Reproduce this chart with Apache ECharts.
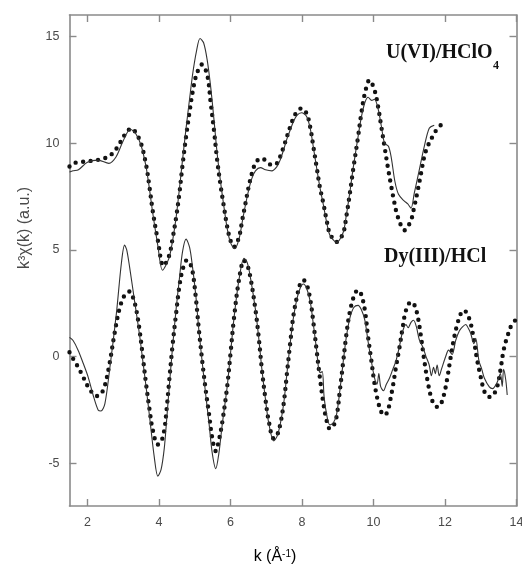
<!DOCTYPE html>
<html>
<head>
<meta charset="utf-8">
<script src="https://cdn.jsdelivr.net/npm/echarts@6/dist/echarts.min.js"></script>
<style>
  html, body { margin: 0; padding: 0; background: #fff; }
  #chart { width: 522px; height: 568px; }
</style>
</head>
<body>
<div id="chart"></div>
<script>
// k-space EXAFS, k^3-weighted: experiment (thin line) and fit (dotted)

// Axis ticks
const kTicks = [2, 4, 6, 8, 10, 12, 14];
const chiTicks = [-5, 0, 5, 10, 15];

// U(VI) / HClO4 (offset upward)
const kUFit = [1.5, 1.6, 1.75, 2.0, 2.25, 2.5, 2.6, 2.75, 2.9, 3.05, 3.23, 3.35, 3.5, 3.64, 3.74, 3.83, 3.97, 4.13, 4.28, 4.38, 4.48, 4.57, 4.66, 4.76, 4.86, 4.95, 5.05, 5.2, 5.35, 5.45, 5.54, 5.63, 5.73, 5.82, 5.91, 6.0, 6.1, 6.24, 6.33, 6.42, 6.51, 6.6, 6.7, 6.84, 6.98, 7.16, 7.3, 7.39, 7.49, 7.58, 7.67, 7.76, 7.86, 7.99, 8.13, 8.23, 8.32, 8.41, 8.5, 8.6, 8.69, 8.78, 8.97, 9.15, 9.24, 9.34, 9.43, 9.57, 9.66, 9.76, 9.89, 10.03, 10.13, 10.22, 10.31, 10.4, 10.5, 10.59, 10.68, 10.87, 11.05, 11.14, 11.24, 11.33, 11.42, 11.51, 11.65, 11.79, 11.88];
const chiUFit = [8.9, 9.05, 9.1, 9.15, 9.2, 9.3, 9.38, 9.6, 9.98, 10.4, 10.69, 10.5, 9.98, 9.0, 7.9, 6.8, 5.45, 4.25, 4.7, 5.5, 6.5, 7.6, 8.95, 10.3, 11.5, 12.45, 13.2, 13.68, 13.2, 11.86, 10.6, 9.2, 7.95, 7.0, 6.08, 5.45, 5.14, 5.6, 6.39, 7.17, 7.95, 8.58, 9.05, 9.28, 9.2, 8.97, 9.05, 9.36, 9.83, 10.3, 10.76, 11.16, 11.47, 11.63, 11.39, 10.76, 9.83, 8.89, 7.95, 7.17, 6.39, 5.77, 5.37, 5.77, 6.55, 7.64, 8.73, 10.3, 11.39, 12.33, 12.95, 12.48, 11.7, 10.76, 9.83, 8.89, 7.95, 7.17, 6.55, 5.92, 6.39, 7.01, 7.8, 8.58, 9.36, 9.83, 10.3, 10.69, 10.84];

const kUExp = [1.5, 1.6, 1.75, 2.0, 2.3, 2.6, 2.8, 3.0, 3.2, 3.35, 3.5, 3.64, 3.74, 3.83, 3.97, 4.1, 4.28, 4.38, 4.48, 4.57, 4.66, 4.76, 4.86, 4.95, 5.05, 5.15, 5.25, 5.35, 5.45, 5.54, 5.63, 5.73, 5.82, 5.91, 6.0, 6.12, 6.24, 6.33, 6.42, 6.51, 6.6, 6.7, 6.84, 6.98, 7.16, 7.3, 7.39, 7.49, 7.58, 7.67, 7.76, 7.86, 7.99, 8.13, 8.23, 8.32, 8.41, 8.5, 8.6, 8.69, 8.78, 8.97, 9.15, 9.24, 9.34, 9.43, 9.57, 9.66, 9.76, 9.85, 9.95, 10.03, 10.13, 10.22, 10.31, 10.42, 10.5, 10.6, 10.7, 10.85, 10.96, 11.05, 11.14, 11.28, 11.42, 11.56, 11.7];
const chiUExp = [8.65, 8.7, 8.75, 9.1, 9.2, 9.05, 9.35, 10.1, 10.65, 10.45, 9.9, 8.9, 7.8, 6.7, 5.2, 4.05, 4.6, 5.4, 6.5, 7.8, 9.2, 10.7, 12.1, 13.3, 14.3, 14.9, 14.7, 13.9, 12.6, 11.1, 9.5, 8.1, 7.0, 6.0, 5.35, 5.05, 5.5, 6.3, 7.1, 7.8, 8.35, 8.7, 8.85, 8.75, 8.7, 8.9, 9.2, 9.7, 10.2, 10.6, 11.0, 11.3, 11.42, 11.25, 10.7, 9.8, 8.85, 7.95, 7.1, 6.3, 5.7, 5.35, 5.8, 6.6, 7.7, 8.8, 10.3, 11.2, 11.9, 12.15, 12.0, 12.05, 11.6, 10.8, 10.0, 9.85, 9.3, 8.2, 7.6, 7.3, 7.15, 6.95, 7.64, 8.73, 9.83, 10.7, 10.84];

// Dy(III) / HCl
const kDyFit = [1.5, 1.6, 1.74, 1.88, 2.02, 2.14, 2.26, 2.38, 2.49, 2.62, 2.76, 2.9, 3.04, 3.18, 3.28, 3.37, 3.46, 3.55, 3.64, 3.74, 3.83, 3.97, 4.06, 4.15, 4.22, 4.29, 4.38, 4.48, 4.57, 4.66, 4.78, 4.86, 4.94, 5.03, 5.12, 5.22, 5.31, 5.4, 5.49, 5.59, 5.68, 5.77, 5.91, 6.0, 6.1, 6.24, 6.38, 6.47, 6.56, 6.7, 6.79, 6.88, 6.98, 7.07, 7.21, 7.3, 7.39, 7.49, 7.58, 7.67, 7.76, 7.86, 7.95, 8.04, 8.13, 8.23, 8.32, 8.41, 8.5, 8.6, 8.69, 8.78, 8.88, 8.97, 9.06, 9.15, 9.24, 9.34, 9.48, 9.57, 9.66, 9.76, 9.85, 9.94, 10.03, 10.12, 10.22, 10.31, 10.4, 10.45, 10.54, 10.63, 10.73, 10.82, 10.91, 11.05, 11.15, 11.24, 11.33, 11.42, 11.51, 11.61, 11.7, 11.79, 11.89, 11.98, 12.07, 12.16, 12.26, 12.35, 12.44, 12.53, 12.62, 12.72, 12.81, 12.9, 13.0, 13.09, 13.18, 13.27, 13.37, 13.46, 13.55, 13.64, 13.74, 13.88, 13.97];
const chiDyFit = [0.2, -0.1, -0.49, -0.95, -1.42, -1.7, -1.85, -1.75, -1.35, -0.33, 1.08, 2.25, 2.87, 3.05, 2.75, 2.17, 1.23, 0.0, -1.27, -2.5, -3.45, -4.12, -4.0, -3.45, -2.4, -1.1, 0.5, 2.0, 3.26, 4.05, 4.51, 4.4, 4.0, 2.8, 1.23, -0.33, -1.58, -2.67, -3.8, -4.43, -3.9, -3.1, -1.4, 0.1, 1.8, 3.6, 4.5, 4.3, 3.7, 2.2, 0.92, -0.6, -2.0, -3.0, -3.84, -3.7, -3.2, -2.2, -0.8, 0.6, 1.9, 2.8, 3.4, 3.58, 3.4, 2.7, 1.6, 0.3, -0.96, -2.2, -3.0, -3.38, -3.25, -2.8, -1.6, -0.3, 1.0, 2.1, 2.95, 3.11, 2.9, 2.17, 0.92, -0.17, -1.27, -2.05, -2.6, -2.75, -2.55, -2.2, -1.42, -0.49, 0.45, 1.39, 2.17, 2.56, 2.4, 1.86, 0.92, -0.17, -1.11, -1.89, -2.25, -2.36, -2.2, -1.73, -0.96, -0.02, 0.92, 1.55, 2.0, 2.17, 2.0, 1.55, 0.76, -0.17, -0.96, -1.58, -1.85, -1.89, -1.75, -1.42, -0.64, 0.3, 0.92, 1.55, 1.7];

const kDyExp = [1.5, 1.6, 1.74, 1.88, 2.02, 2.16, 2.3, 2.38, 2.49, 2.62, 2.81, 2.95, 3.04, 3.1, 3.18, 3.32, 3.46, 3.55, 3.64, 3.74, 3.87, 3.97, 4.06, 4.15, 4.22, 4.29, 4.38, 4.48, 4.57, 4.66, 4.76, 4.86, 4.94, 5.03, 5.12, 5.22, 5.31, 5.4, 5.49, 5.59, 5.68, 5.77, 5.91, 6.0, 6.1, 6.24, 6.38, 6.47, 6.56, 6.7, 6.79, 6.88, 6.98, 7.07, 7.21, 7.3, 7.39, 7.49, 7.58, 7.67, 7.76, 7.86, 7.95, 8.04, 8.13, 8.23, 8.32, 8.41, 8.47, 8.52, 8.57, 8.62, 8.69, 8.78, 8.88, 8.97, 9.06, 9.15, 9.24, 9.34, 9.45, 9.57, 9.66, 9.76, 9.85, 9.94, 10.03, 10.1, 10.15, 10.2, 10.28, 10.36, 10.45, 10.54, 10.63, 10.73, 10.82, 10.91, 10.97, 11.05, 11.12, 11.2, 11.28, 11.38, 11.47, 11.56, 11.62, 11.68, 11.73, 11.78, 11.84, 11.9, 12.02, 12.1, 12.2, 12.3, 12.4, 12.49, 12.58, 12.66, 12.72, 12.81, 12.86, 12.95, 13.03, 13.1, 13.24, 13.33, 13.46, 13.55, 13.6, 13.64, 13.7, 13.74];
const chiDyExp = [0.9, 0.75, 0.3, -0.3, -0.95, -1.8, -2.5, -2.55, -2.2, -0.64, 2.0, 4.36, 5.22, 5.0, 4.2, 2.6, 1.0, -0.2, -1.4, -2.83, -4.7, -5.6, -5.3, -4.3, -2.9, -1.4, 0.4, 2.2, 3.6, 4.9, 5.5, 5.1, 4.2, 2.9, 1.2, -0.4, -1.8, -3.1, -4.5, -5.25, -4.5, -3.2, -1.4, 0.1, 1.8, 3.6, 4.6, 4.4, 3.7, 2.2, 0.9, -0.6, -2.0, -3.1, -3.95, -3.75, -3.2, -2.2, -0.8, 0.6, 1.8, 2.7, 3.2, 3.4, 3.2, 2.6, 1.5, 0.3, -0.6, -0.75, -0.7, -1.9, -2.7, -3.2, -3.1, -2.7, -1.6, -0.3, 0.9, 1.8, 2.3, 2.4, 2.2, 1.7, 0.7, -0.2, -1.0, -1.3, -0.8, -1.4, -1.6, -1.3, -1.0, -0.6, -0.2, 0.5, 1.2, 1.5, 1.35, 1.6, 1.7, 1.4, 0.8, 0.45, 0.0, -0.4, -0.9, -0.5, -0.8, -0.4, -0.9, -0.6, 0.0, 0.3, 0.1, 0.76, 1.2, 1.39, 1.5, 1.3, 1.08, 0.6, 0.85, -0.2, -0.6, -1.0, -1.42, -1.5, -1.2, -0.8, -1.4, -0.6, -1.1, -1.8];

const pairs = (xs, ys) => xs.map((x, i) => [x, ys[i]]);

const AXIS_COLOR = '#8a8a8a';
const LABEL_COLOR = '#4a4a4a';
const SANS = "'Liberation Sans', Arial, sans-serif";
const SERIF = "'Liberation Serif', 'Times New Roman', serif";

// fit curves: round dots along the path
const fitStyle = { color: '#111', width: 4.4, type: [0, 7.5], cap: 'round' };
const expStyle = { color: '#333', width: 1.1 };

function valueAxis(pos, min, max, ticks, showLabels) {
  return {
    type: 'value', position: pos, min: min, max: max,
    splitLine: { show: false },
    axisLine: { show: true, onZero: false, lineStyle: { color: AXIS_COLOR, width: 1.6 } },
    axisTick: { show: true, inside: true, length: 7, customValues: ticks,
                lineStyle: { color: AXIS_COLOR, width: 1.4 } },
    axisLabel: { show: showLabels, customValues: ticks, margin: 10,
                 color: LABEL_COLOR, fontSize: 12.5, fontFamily: SANS }
  };
}

const chart = echarts.init(document.getElementById('chart'), null, { renderer: 'canvas' });
chart.setOption({
  animation: false,
  backgroundColor: '#fff',
  grid: { left: 69.5, right: 5.5, top: 15, bottom: 62, containLabel: false, outerBoundsMode: 'none' },
  xAxis: [
    valueAxis('bottom', 1.5, 14, kTicks, true),
    valueAxis('top', 1.5, 14, kTicks, false)
  ],
  yAxis: [
    valueAxis('left', -7, 16, chiTicks, true),
    valueAxis('right', -7, 16, chiTicks, false)
  ],
  series: [
    { type: 'line', name: 'U fit', data: pairs(kUFit, chiUFit), showSymbol: false, smooth: 0.35, lineStyle: fitStyle, z: 2 },
    { type: 'line', name: 'U exp', data: pairs(kUExp, chiUExp), showSymbol: false, smooth: 0.3, lineStyle: expStyle, z: 3 },
    { type: 'line', name: 'Dy fit', data: pairs(kDyFit, chiDyFit), showSymbol: false, smooth: 0.35, lineStyle: fitStyle, z: 2 },
    { type: 'line', name: 'Dy exp', data: pairs(kDyExp, chiDyExp), showSymbol: false, smooth: 0.3, lineStyle: expStyle, z: 3 }
  ],
  graphic: [
    { type: 'text', left: 386, top: 43, style: { text: 'U(VI)/HClO', fontSize: 20, fontWeight: 'bold', fontFamily: SERIF, fill: '#111' } },
    { type: 'text', left: 493, top: 60, style: { text: '4', fontSize: 12, fontWeight: 'bold', fontFamily: SERIF, fill: '#111' } },
    { type: 'text', left: 384, top: 247, style: { text: 'Dy(III)/HCl', fontSize: 20, fontWeight: 'bold', fontFamily: SERIF, fill: '#111' } },
    { type: 'text', x: 275, y: 557,
      style: { text: '{m|k (Å}{s|-1}{m|)}', align: 'center', verticalAlign: 'middle',
               rich: { m: { fontSize: 16, fontFamily: SANS, color: LABEL_COLOR },
                       s: { fontSize: 10, fontFamily: SANS, color: LABEL_COLOR, verticalAlign: 'top' } } } },
    { type: 'text', x: 25, y: 228, rotation: Math.PI / 2,
      style: { text: 'k³χ(k) (a.u.)', align: 'center', verticalAlign: 'middle',
               fontSize: 16, fontFamily: SANS, fill: LABEL_COLOR } }
  ]
});
</script>
</body>
</html>
